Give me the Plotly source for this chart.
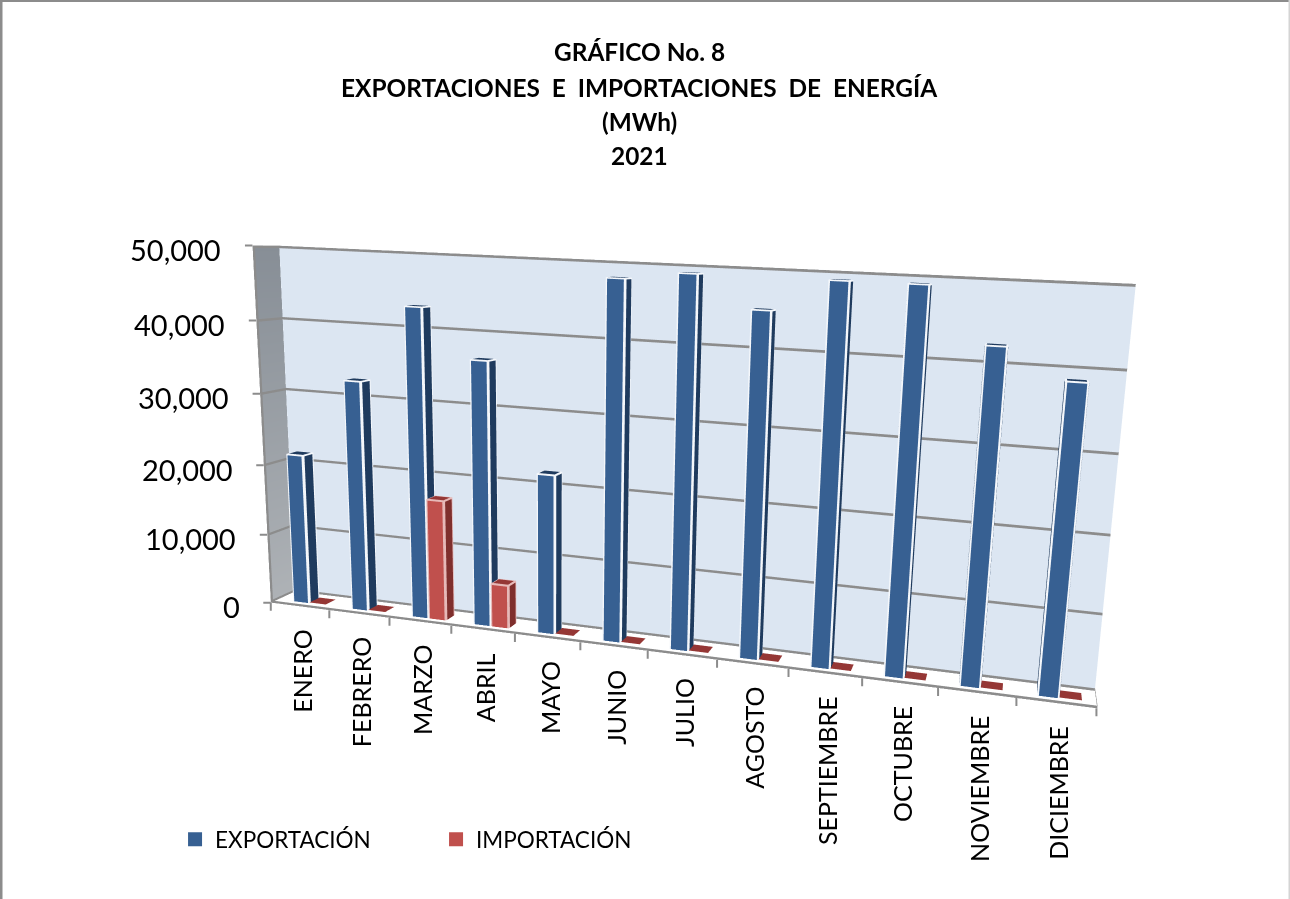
import plotly.graph_objects as go

MESES = ["ENERO","FEBRERO","MARZO","ABRIL","MAYO","JUNIO","JULIO","AGOSTO","SEPTIEMBRE","OCTUBRE","NOVIEMBRE","DICIEMBRE"]
EXPORTACION = [21500,32500,43000,36500,22000,48000,49000,45000,49000,49000,42300,38700]
IMPORTACION = [100,100,17000,6100,100,100,100,100,100,100,100,100]
TITULO = ["GRÁFICO No. 8","EXPORTACIONES\u00a0 E\u00a0 IMPORTACIONES\u00a0 DE\u00a0 ENERGÍA","(MWh)","2021"]
Z_TICKS = [0,10000,20000,30000,40000,50000]

BAR_W = 0.28
OFFSET = 0.26
Y0, Y1 = 0.30, 0.72
ZMAX = 50000
NX = len(MESES)
GR = "#8C8C8C"
FLAT = dict(ambient=1, diffuse=0, specular=0, roughness=1, fresnel=0)


class Quads:
    """Collects flat-coloured quads for one Mesh3d trace."""
    def __init__(self):
        self.x, self.y, self.z, self.i, self.j, self.k, self.c = [], [], [], [], [], [], []

    def add(self, corners, col):
        b = len(self.x)
        for px, py, pz in corners:
            self.x.append(px); self.y.append(py); self.z.append(pz)
        self.i += [b, b]; self.j += [b + 1, b + 2]; self.k += [b + 2, b + 3]; self.c += [col, col]

    def trace(self, name=None):
        return go.Mesh3d(x=self.x, y=self.y, z=self.z, i=self.i, j=self.j, k=self.k, facecolor=self.c,
                         flatshading=True, hoverinfo="skip", showlegend=False, name=name, lighting=FLAT)


def bars(valores, off, cfront, cside, ctop, cedge, name):
    q = Quads()
    mx, my, mz = 0.022, 0.05, 170
    ex, ey, ez = 0.003, 0.01, 20
    for n, v in enumerate(valores):
        x0 = n + off
        x1 = x0 + BAR_W
        top = v - mz
        if top > 0:
            # pale outer box, whose rim shows as the outline of each face
            q.add([(x0, Y0, 0), (x1, Y0, 0), (x1, Y0, v), (x0, Y0, v)], cedge)
            q.add([(x1, Y0, 0), (x1, Y1, 0), (x1, Y1, v), (x1, Y0, v)], cedge)
            q.add([(x0, Y0, 0), (x0, Y1, 0), (x0, Y1, v), (x0, Y0, v)], cedge)
            q.add([(x0, Y0, v), (x1, Y0, v), (x1, Y1, v), (x0, Y1, v)], cedge)
            q.add([(x0 + mx, Y0 - ey, 0), (x1 - mx, Y0 - ey, 0), (x1 - mx, Y0 - ey, top), (x0 + mx, Y0 - ey, top)], cfront)
            q.add([(x1 + ex, Y0 + my, 0), (x1 + ex, Y1 - my, 0), (x1 + ex, Y1 - my, top), (x1 + ex, Y0 + my, top)], cside)
            q.add([(x0 - ex, Y0 + my, 0), (x0 - ex, Y1 - my, 0), (x0 - ex, Y1 - my, top), (x0 - ex, Y0 + my, top)], cside)
            q.add([(x0 + mx, Y0 + my, v + ez), (x1 - mx, Y0 + my, v + ez), (x1 - mx, Y1 - my, v + ez), (x0 + mx, Y1 - my, v + ez)], ctop)
        else:
            # almost-zero months lie flat on the floor
            q.add([(x0, Y0, v), (x1, Y0, v), (x1, Y1, v), (x0, Y1, v)], ctop)
    return q.trace(name)


fig = go.Figure()

# left wall with its vertical gradient
fig.add_trace(go.Mesh3d(x=[0, 0, 0, 0], y=[0, 1, 1, 0], z=[0, 0, ZMAX, ZMAX], i=[0, 0], j=[1, 2], k=[2, 3],
                        vertexcolor=["#AEB2B6", "#AEB2B6", "#878E96", "#878E96"], hoverinfo="skip",
                        showlegend=False, lighting=FLAT))

# grid lines on the walls and the floor edges, as thin ribbons
g = Quads()
ey_wall, ex_wall, half = 0.005, 0.004, 170
for v in Z_TICKS:
    lo = max(v - half, 0) if v < ZMAX else ZMAX - 2 * half
    hi = min(v + half, ZMAX) if v > 0 else 2 * half
    g.add([(0, 1 - ey_wall, lo), (NX, 1 - ey_wall, lo), (NX, 1 - ey_wall, hi), (0, 1 - ey_wall, hi)], GR)
    g.add([(ex_wall, 0, lo), (ex_wall, 1, lo), (ex_wall, 1, hi), (ex_wall, 0, hi)], GR)
g.add([(0, 0, 0), (NX, 0, 0), (NX, 0, 2 * half), (0, 0, 2 * half)], GR)
g.add([(NX, 0, 0), (NX, 1, 0), (NX, 1, 2 * half), (NX, 0, 2 * half)], GR)
g.add([(0, 0, 0), (0.04, 0, 0), (0.04, 0, ZMAX), (0, 0, ZMAX)], GR)
fig.add_trace(g.trace())

fig.add_trace(bars(EXPORTACION, OFFSET, "#376092", "#1F3B5E", "#1F3B5E", "#F4F7FB", "EXPORTACIÓN"))
fig.add_trace(bars(IMPORTACION, OFFSET + BAR_W, "#C0504D", "#7F2F2D", "#953735", "#E6B9B8", "IMPORTACIÓN"))
for nm, col in [("EXPORTACIÓN", "#376092"), ("IMPORTACIÓN", "#C0504D")]:
    fig.add_trace(go.Scatter3d(x=[None], y=[None], z=[None], mode="markers", name=nm,
                               marker=dict(symbol="square", size=14, color=col)))

annots = [dict(x=i + .5, y=0, z=0, text=m, textangle=-90, showarrow=False, xanchor="center", yanchor="top",
               xshift=2, yshift=-21, font=dict(family="Lato", size=25, color="black")) for i, m in enumerate(MESES)]
annots += [dict(x=0, y=0, z=min(v, ZMAX - 10), text=f"{v:,}", showarrow=False, xanchor="right", yanchor="middle",
                xshift=-29, yshift=-4, font=dict(family="Lato", size=29, color="black")) for v in Z_TICKS]
# tick marks
annots += [dict(x=min(i, NX - .01), y=0, z=0, text="\u00a0", font=dict(size=1), showarrow=True, arrowhead=0,
                arrowwidth=2, arrowcolor=GR, standoff=0, ax=0, ay=10) for i in range(NX + 1)]
annots += [dict(x=0, y=0, z=min(v, ZMAX - 10), text="\u00a0", font=dict(size=1), showarrow=True, arrowhead=0,
                arrowwidth=2, arrowcolor=GR, standoff=0, ax=-9, ay=0) for v in Z_TICKS]

base = dict(title="", showticklabels=False, showspikes=False, zeroline=False, showline=False, ticks="", showgrid=False)
fig.update_layout(
    width=1290, height=899, margin=dict(l=0, r=0, t=0, b=0), paper_bgcolor="white",
    showlegend=True,
    legend=dict(orientation="h", x=0.1357, y=0.066, xanchor="left", yanchor="middle", entrywidth=216,
                font=dict(family="Lato", size=22.5, color="black"), bgcolor="rgba(0,0,0,0)"),
    scene=dict(
        domain=dict(x=[250 / 1290, 1], y=[0, 1]),
        aspectmode="manual", aspectratio=dict(x=2, y=0.0953, z=0.8828),
        camera=dict(eye=dict(x=0.7897, y=-2.2994, z=0.5006), center=dict(x=0.2602, y=0, z=0.0455),
                    up=dict(x=-0.0803, y=0.1757, z=0.9812), projection=dict(type="perspective")),
        xaxis=dict(base, range=[0, NX], showbackground=False),
        yaxis=dict(base, range=[0, 1], showbackground=True, backgroundcolor="#DCE6F2"),
        zaxis=dict(base, range=[0, ZMAX], showbackground=True, backgroundcolor="white"),
        annotations=annots,
    ),
    annotations=[dict(xref="paper", yref="paper", x=639 / 1290, y=1 - yy / 899, text=f"<b>{tx}</b>", showarrow=False,
                      font=dict(family="Lato", size=24.4, color="black"), xanchor="center", yanchor="middle")
                 for tx, yy in zip(TITULO, [52, 87, 121, 155])],
    shapes=[
        dict(type="line", xref="paper", yref="paper", x0=0, x1=0, y0=0, y1=1, line=dict(color="#8C8C8C", width=5)),
        dict(type="line", xref="paper", yref="paper", x0=0, x1=1, y0=1, y1=1, line=dict(color="#8C8C8C", width=4)),
        dict(type="line", xref="paper", yref="paper", x0=1, x1=1, y0=0, y1=1, line=dict(color="#D4D4D4", width=3)),
    ],
)
fig.write_html("out.html", config=dict(displayModeBar=False), post_script="document.body.style.margin='0';")
